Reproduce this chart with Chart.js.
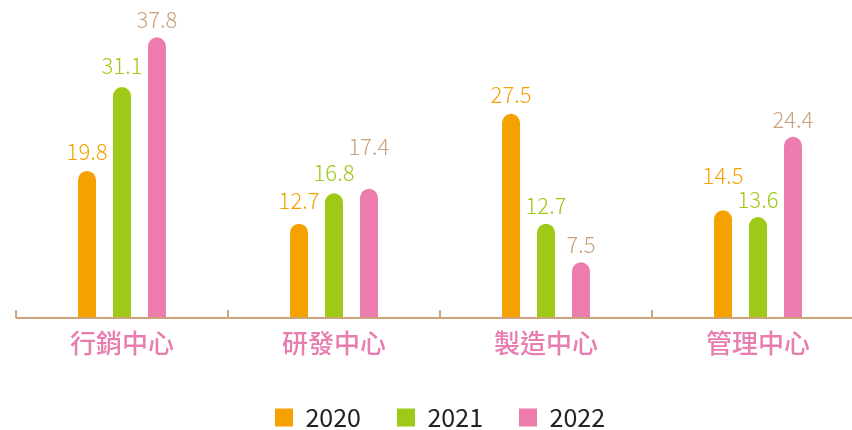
<!DOCTYPE html>
<html>
<head>
<meta charset="utf-8">
<script src="https://cdn.jsdelivr.net/npm/chart.js@4.4.0/dist/chart.umd.min.js"></script>
<style>
    body { margin: 0; background: #fff; overflow: hidden; }
    #wrap { width: 880px; height: 430px; }
</style>
</head>
<body>
<div id="wrap"><canvas id="myBarChart"></canvas></div>
<script>
const categories = ['行銷中心', '研發中心', '製造中心', '管理中心'];
const years = ['2020', '2021', '2022'];
const values2020 = [19.8, 12.7, 27.5, 14.5];
const values2021 = [31.1, 16.8, 12.7, 13.6];
const values2022 = [37.8, 17.4, 7.5, 24.4];

const barColors = ['#F5A200', '#9EC917', '#EC7BAE'];
const labelColors = ['#F5A200', '#9EC917', '#C9A07C'];
const fontCJK = '"Noto Sans CJK TC", "Noto Sans", sans-serif';

// separacion extra de algunas etiquetas para que no se encimen (px)
const labelLift = [
    [1, 5, 1, 16],
    [3, 2, 0, -1],
    [-1, 24, -1, -1]
];

// etiquetas de valor sobre cada barra
const valueLabels = {
    id: 'valueLabels',
    afterDatasetsDraw(chart) {
        const ctx = chart.ctx;
        ctx.save();
        ctx.font = '300 22px ' + fontCJK;
        ctx.textAlign = 'center';
        ctx.textBaseline = 'alphabetic';
        chart.data.datasets.forEach((ds, i) => {
            ctx.fillStyle = labelColors[i];
            chart.getDatasetMeta(i).data.forEach((bar, j) => {
                ctx.fillText(ds.data[j].toFixed(1), bar.x, bar.y - 10 - labelLift[i][j]);
            });
        });
        ctx.restore();
    }
};

// linea del eje con marcas hacia arriba entre categorias
const axisLine = {
    id: 'axisLine',
    afterDraw(chart) {
        const ctx = chart.ctx;
        const x = chart.scales.x;
        const y = chart.chartArea.bottom;
        const step = (x.right - x.left) / categories.length;
        ctx.save();
        ctx.strokeStyle = '#CDA47E';
        ctx.lineWidth = 2;
        ctx.beginPath();
        ctx.moveTo(x.left, y);
        ctx.lineTo(x.right, y);
        for (let i = 0; i <= categories.length; i++) {
            const px = Math.round(x.left + i * step);
            ctx.moveTo(px, y);
            ctx.lineTo(px, y - 8);
        }
        ctx.stroke();
        ctx.restore();
    }
};

// baja un poco la leyenda
const legendShift = {
    id: 'legendShift',
    beforeInit(chart) {
        const originalFit = chart.legend.fit;
        chart.legend.fit = function () {
            originalFit.bind(chart.legend)();
            this.height -= 10;
        };
    }
};

function createBarChart() {
    const ctx = document.getElementById('myBarChart').getContext('2d');
    const series = [values2020, values2021, values2022];

    new Chart(ctx, {
        type: 'bar',
        data: {
            labels: categories,
            datasets: years.map((y, i) => ({
                label: y,
                data: series[i],
                backgroundColor: barColors[i],
                borderRadius: { topLeft: 9, topRight: 9 },
                borderSkipped: 'bottom',
                categoryPercentage: 0.495,
                barPercentage: 0.514
            }))
        },
        options: {
            responsive: true,
            maintainAspectRatio: false,
            animation: false,
            layout: {
                padding: { left: 16, right: 16, top: 21, bottom: 0 }
            },
            scales: {
                x: {
                    grid: { display: false, tickLength: 0 },
                    border: { display: false },
                    ticks: {
                        color: '#E97DB0',
                        font: { family: fontCJK, size: 26, weight: '500' },
                        padding: 10
                    },
                    afterFit(scale) {
                        scale.height = 51;
                    }
                },
                y: {
                    display: false,
                    min: 0,
                    max: 40
                }
            },
            plugins: {
                legend: {
                    position: 'bottom',
                    labels: {
                        boxWidth: 18,
                        boxHeight: 18,
                        padding: 36,
                        color: '#222',
                        font: { family: fontCJK, size: 25 }
                    }
                },
                tooltip: { enabled: false }
            }
        },
        plugins: [valueLabels, axisLine, legendShift]
    });
}

document.addEventListener('DOMContentLoaded', createBarChart);
</script>
</body>
</html>
